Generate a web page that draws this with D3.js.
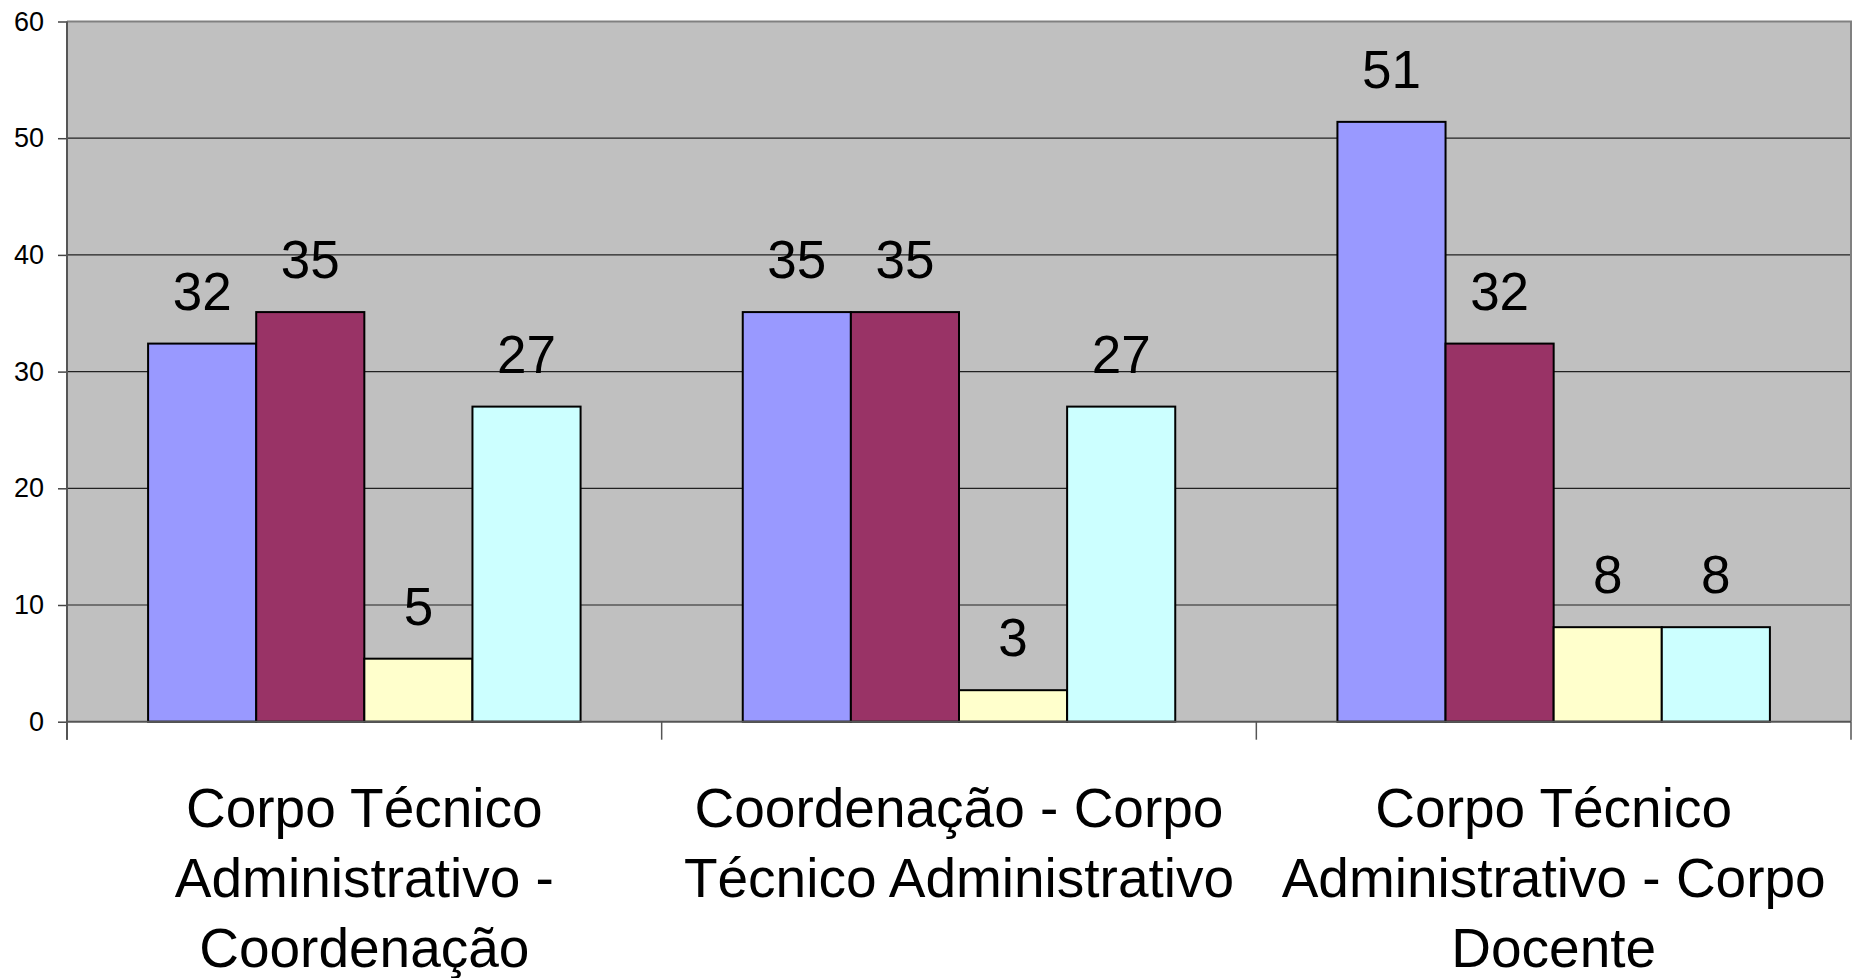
<!DOCTYPE html>
<html>
<head>
<meta charset="utf-8">
<script src="https://cdn.jsdelivr.net/npm/d3@7"></script>
<style>
  html, body { margin: 0; padding: 0; background: #ffffff; }
  svg { display: block; font-family: "Liberation Sans", Arial, sans-serif; }
</style>
</head>
<body>
<svg id="chart" width="1852" height="978"></svg>
<script>
// ---- data ----
const categories = ["cat1", "cat2", "cat3"];
const categoryLabels = [
  ["Corpo Técnico", "Administrativo -", "Coordenação"],
  ["Coordenação - Corpo", "Técnico Administrativo"],
  ["Corpo Técnico", "Administrativo - Corpo", "Docente"]
];
const seriesNames = ["Série 1", "Série 2", "Série 3", "Série 4"];
const seriesColors = ["#9999FF", "#993366", "#FFFFCC", "#CCFFFF"];
const series1 = [32.4, 35.1, 51.4];
const series2 = [35.1, 35.1, 32.4];
const series3 = [5.4, 2.7, 8.1];
const series4 = [27.0, 27.0, 8.1];
const yTicks = [0, 10, 20, 30, 40, 50, 60];

const seriesValues = [series1, series2, series3, series4];

// ---- layout ----
const svg = d3.select("#chart");
const plot = { left: 67, right: 1851, top: 21.5, bottom: 721.7 };

const x0 = d3.scaleBand().domain(categories).range([plot.left, plot.right]).paddingInner(0).paddingOuter(0);
// Excel gap width 150%: 4 bars + 1.5 bar gap per category
const barW = x0.bandwidth() / (seriesNames.length + 1.5);
const x1 = d3.scaleBand().domain(seriesNames).range([0, barW * seriesNames.length]).padding(0);
const y = d3.scaleLinear().domain([0, 60]).range([plot.bottom, plot.top]);

// plot background
svg.append("rect")
  .attr("x", plot.left).attr("y", plot.top)
  .attr("width", plot.right - plot.left).attr("height", plot.bottom - plot.top)
  .attr("fill", "#C0C0C0");

// gridlines
svg.append("g").selectAll("line").data(yTicks.filter(t => t > 0 && t < 60)).join("line")
  .attr("x1", plot.left).attr("x2", plot.right)
  .attr("y1", d => y(d)).attr("y2", d => y(d))
  .attr("stroke", "#222").attr("stroke-width", 1.2);

// plot border top/right
svg.append("path")
  .attr("d", `M${plot.left},${plot.top}H${plot.right}V${plot.bottom}`)
  .attr("fill", "none").attr("stroke", "#808080").attr("stroke-width", 2);

// bars
const groups = svg.append("g").selectAll("g").data(categories).join("g")
  .attr("transform", d => `translate(${x0(d) + barW * 0.75},0)`);

groups.each(function(cat, ci) {
  const g = d3.select(this);
  seriesNames.forEach((s, si) => {
    const v = seriesValues[si][ci];
    g.append("rect")
      .attr("x", x1(s)).attr("y", y(v))
      .attr("width", x1.bandwidth()).attr("height", y(0) - y(v))
      .attr("fill", seriesColors[si])
      .attr("stroke", "#000").attr("stroke-width", 2);
    g.append("text")
      .attr("x", x1(s) + x1.bandwidth() / 2)
      .attr("y", y(v) - 34)
      .attr("text-anchor", "middle")
      .attr("font-size", 53)
      .attr("fill", "#000")
      .text(d3.format(".0f")(v));
  });
});

// y axis
const yAxis = d3.axisLeft(y).tickValues(yTicks).tickSize(9).tickPadding(14);
const yg = svg.append("g").attr("transform", `translate(${plot.left},0)`).call(yAxis);
yg.select(".domain").remove();
yg.selectAll(".tick line").attr("stroke", "#444").attr("stroke-width", 1.5);
yg.selectAll(".tick text").attr("font-size", 27).attr("fill", "#000")
  .attr("font-family", "Liberation Sans, Arial, sans-serif");
svg.append("line")
  .attr("x1", plot.left).attr("x2", plot.left)
  .attr("y1", plot.top).attr("y2", plot.bottom + 18)
  .attr("stroke", "#555").attr("stroke-width", 2);

// x axis line & ticks at category boundaries
svg.append("line")
  .attr("x1", plot.left).attr("x2", plot.right)
  .attr("y1", plot.bottom).attr("y2", plot.bottom)
  .attr("stroke", "#555").attr("stroke-width", 2);
const boundaries = categories.map(c => x0(c)).concat([x0(categories[categories.length - 1]) + x0.bandwidth()]);
svg.append("g").selectAll("line").data(boundaries).join("line")
  .attr("x1", d => d).attr("x2", d => d)
  .attr("y1", plot.bottom).attr("y2", plot.bottom + 18)
  .attr("stroke", "#555").attr("stroke-width", 1.5);

// category labels
const labG = svg.append("g").selectAll("text").data(categories).join("text")
  .attr("text-anchor", "middle")
  .attr("font-size", 55)
  .attr("fill", "#000");
labG.each(function(cat, ci) {
  const t = d3.select(this);
  categoryLabels[ci].forEach((line, li) => {
    t.append("tspan")
      .attr("x", x0(cat) + x0.bandwidth() / 2)
      .attr("y", 827 + li * 70)
      .text(line);
  });
});
</script>
</body>
</html>
